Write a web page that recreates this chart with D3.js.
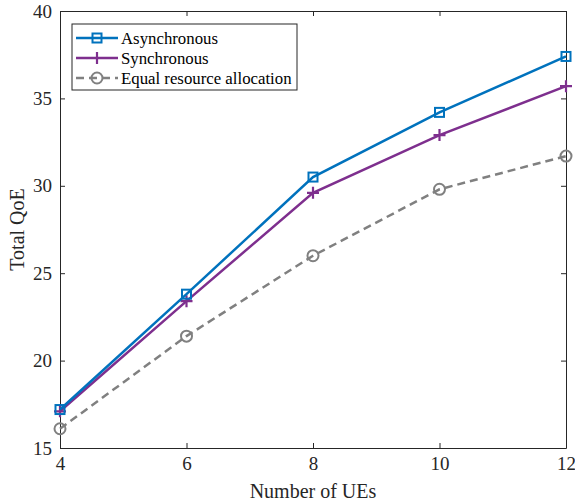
<!DOCTYPE html>
<html>
<head>
<meta charset="utf-8">
<script src="https://cdn.jsdelivr.net/npm/d3@7"></script>
<style>
body { margin: 0; background: #fff; }
text { font-family: "Liberation Serif", "Times New Roman", serif; }
</style>
</head>
<body>
<div id="chart"></div>
<script>
// data
var ues = [4, 6, 8, 10, 12];
var asyncQoE = [17.2, 23.8, 30.5, 34.2, 37.4];
var syncQoE = [17.1, 23.4, 29.6, 32.9, 35.7];
var equalQoE = [16.1, 21.4, 26.0, 29.8, 31.7];
var xTicks = [4, 6, 8, 10, 12];
var yTicks = [15, 20, 25, 30, 35, 40];

var series = [
    {name: "Asynchronous", values: asyncQoE, color: "#0072BD", marker: "square", dash: null},
    {name: "Synchronous", values: syncQoE, color: "#7E2F8E", marker: "plus", dash: null},
    {name: "Equal resource allocation", values: equalQoE, color: "#808080", marker: "circle", dash: "8,5"}
];

var W = 575, H = 501;
var margin = {top: 11, right: 9, bottom: 53, left: 60};
var width = W - margin.left - margin.right;
var height = H - margin.top - margin.bottom;

var svg = d3.select("#chart")
    .append("svg")
    .attr("width", W)
    .attr("height", H);

var g = svg.append("g")
    .attr("transform", "translate(" + margin.left + "," + margin.top + ")");

var x = d3.scaleLinear().domain([4, 12]).range([0, width]);
var y = d3.scaleLinear().domain([15, 40]).range([height, 0]);

var axisColor = "#262626";

// axes (ticks inward, box on all sides)
var xAxis = g.append("g")
    .attr("transform", "translate(0," + height + ")")
    .call(d3.axisBottom(x).tickValues(xTicks).tickSizeInner(-5).tickSizeOuter(0).tickPadding(9));
var yAxis = g.append("g")
    .call(d3.axisLeft(y).tickValues(yTicks).tickSizeInner(-5).tickSizeOuter(0).tickPadding(8));
var xTop = g.append("g")
    .call(d3.axisTop(x).tickValues(xTicks).tickSizeInner(-5).tickSizeOuter(0).tickFormat(""));
var yRight = g.append("g")
    .attr("transform", "translate(" + width + ",0)")
    .call(d3.axisRight(y).tickValues(yTicks).tickSizeInner(-5).tickSizeOuter(0).tickFormat(""));

[xAxis, yAxis, xTop, yRight].forEach(function(a) {
    a.selectAll("path").attr("stroke", axisColor).attr("stroke-width", 1);
    a.selectAll("line").attr("stroke", axisColor).attr("stroke-width", 1);
    a.selectAll("text")
        .attr("fill", axisColor)
        .style("font-family", "'Liberation Serif', serif")
        .style("font-size", "19px");
});

// axis labels
svg.append("text")
    .attr("x", margin.left + width / 2)
    .attr("y", 498)
    .attr("text-anchor", "middle")
    .attr("fill", axisColor)
    .style("font-size", "20px")
    .text("Number of UEs");

svg.append("text")
    .attr("transform", "translate(24," + (margin.top + height / 2) + ") rotate(-90)")
    .attr("text-anchor", "middle")
    .attr("fill", axisColor)
    .style("font-size", "20px")
    .text("Total QoE");

// marker drawing
function drawMarker(sel, type, color) {
    if (type === "square") {
        sel.append("rect")
            .attr("x", -4.5).attr("y", -4.5)
            .attr("width", 9).attr("height", 9)
            .attr("fill", "none").attr("stroke", color).attr("stroke-width", 2);
    } else if (type === "plus") {
        sel.append("path")
            .attr("d", "M-6,0H6M0,-6V6")
            .attr("stroke", color).attr("stroke-width", 2.2);
    } else {
        sel.append("circle")
            .attr("r", 5.5)
            .attr("fill", "none").attr("stroke", color).attr("stroke-width", 2);
    }
}

var line = d3.line()
    .x(function(d, i) { return x(ues[i]); })
    .y(function(d) { return y(d); });

// draw series, equal first so others on top
series.slice().reverse().forEach(function(s) {
    g.append("path")
        .datum(s.values)
        .attr("fill", "none")
        .attr("stroke", s.color)
        .attr("stroke-width", 2.5)
        .attr("stroke-dasharray", s.dash)
        .attr("d", line);

    s.values.forEach(function(v, i) {
        var m = g.append("g")
            .attr("transform", "translate(" + x(ues[i]) + "," + y(v) + ")");
        drawMarker(m, s.marker, s.color);
    });
});

// legend
var legend = svg.append("g").attr("transform", "translate(72,24)");
legend.append("rect")
    .attr("width", 225).attr("height", 66)
    .attr("fill", "#fff")
    .attr("stroke", axisColor)
    .attr("stroke-width", 1);

series.forEach(function(s, i) {
    var row = legend.append("g").attr("transform", "translate(0," + (14 + i * 20) + ")");
    row.append("line")
        .attr("x1", 4).attr("x2", 46)
        .attr("stroke", s.color)
        .attr("stroke-width", 2.5)
        .attr("stroke-dasharray", s.dash);
    var m = row.append("g").attr("transform", "translate(25,0)");
    drawMarker(m, s.marker, s.color);
    row.append("text")
        .attr("x", 49)
        .attr("y", 5.5)
        .attr("fill", "#000")
        .style("font-size", "16.8px")
        .text(s.name);
});
</script>
</body>
</html>
